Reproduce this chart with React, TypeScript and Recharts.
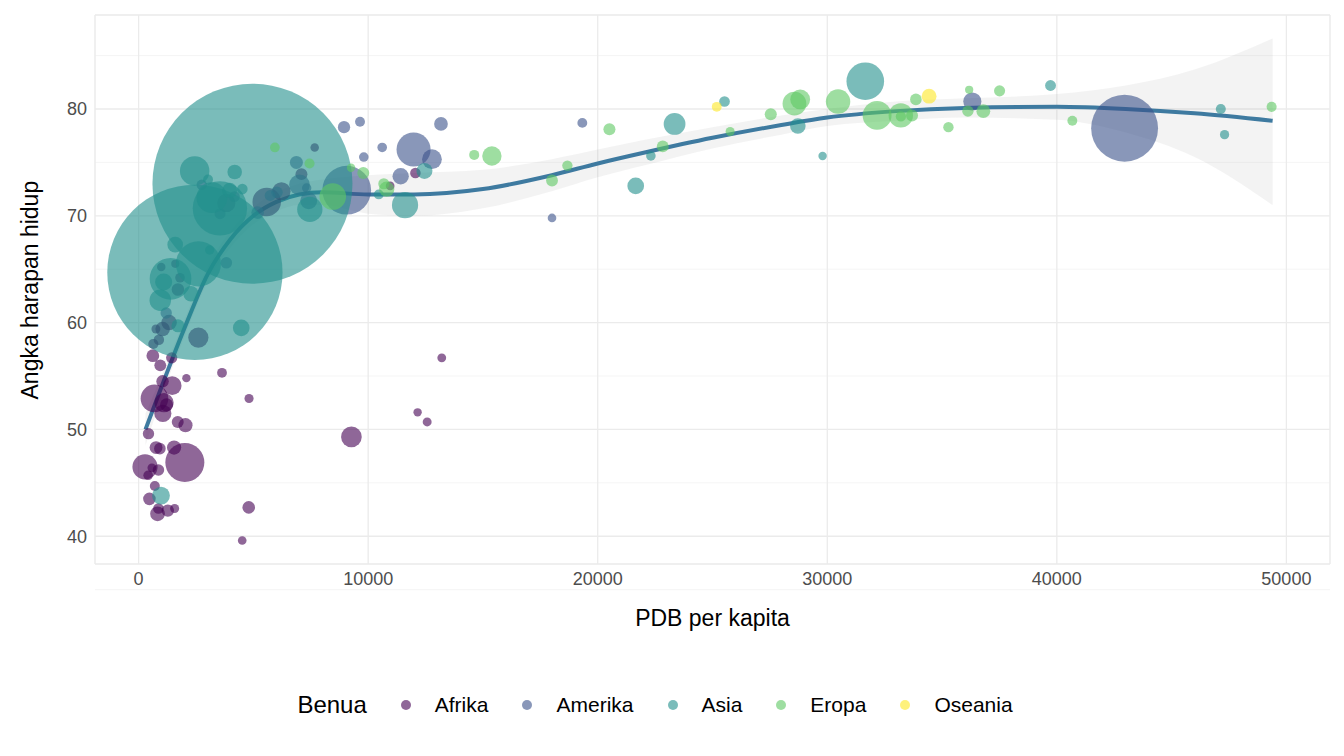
import React from 'react';
import { ComposedChart, Scatter, Line, Area, XAxis, YAxis, CartesianGrid } from 'recharts';

// [gdp per capita, life expectancy, population (millions)]
type Row = [number, number, number];

const afrika: Row[] = [
  [6223, 72.3, 33.3], [4797, 42.7, 12.4], [1441, 56.7, 8.1], [12570, 50.7, 1.6], [1217, 52.3, 14.3],
  [430, 49.6, 8.4], [2042, 50.4, 17.7], [706, 44.7, 4.4], [1704, 50.7, 10.2], [986, 65.2, 0.7],
  [278, 46.5, 64.6], [3633, 55.3, 3.8], [1545, 48.3, 18], [2082, 54.8, 0.5], [5581, 71.3, 80.3],
  [12154, 51.6, 0.55], [641, 58.0, 4.9], [691, 52.9, 76.5], [13206, 56.7, 1.45], [753, 59.4, 1.7],
  [1327, 60.0, 22.9], [943, 56.0, 9.9], [579, 46.4, 1.5], [1463, 54.1, 35.6], [1569, 42.6, 2.0],
  [415, 45.7, 3.2], [12057, 74.0, 6.0], [1045, 59.4, 19.2], [759, 48.3, 13.3], [1043, 54.5, 12.0],
  [1803, 64.2, 3.3], [10957, 72.8, 1.25], [3820, 71.2, 33.8], [824, 42.1, 20.0], [4811, 52.9, 2.1],
  [620, 56.9, 12.9], [2014, 46.9, 135], [863, 46.2, 8.9], [1712, 63.1, 12.3], [863, 42.6, 6.1],
  [926, 48.2, 9.1], [9270, 49.3, 44], [2602, 58.6, 42.3], [4513, 39.6, 1.1], [1107, 52.5, 38.1],
  [883, 58.4, 5.7], [7093, 73.9, 10.3], [1056, 51.5, 29.2], [1271, 42.4, 11.7], [470, 43.5, 12.3],
  [7670, 76.4, 0.8], [1598, 65.5, 0.2],
];
const amerika: Row[] = [
  [12779, 75.3, 40.3], [3822, 65.6, 9.1], [9066, 72.4, 190], [36319, 80.7, 33.4], [13172, 78.6, 16.3],
  [7007, 72.9, 44.2], [9645, 78.8, 4.1], [8948, 78.3, 11.4], [6025, 72.2, 9.3], [6873, 75.0, 13.8],
  [5728, 71.9, 6.9], [5186, 70.3, 12.6], [1202, 60.9, 8.5], [3548, 70.2, 7.5], [7321, 72.6, 2.8],
  [11978, 76.2, 108.7], [2749, 72.9, 5.7], [9809, 75.5, 3.2], [4173, 71.8, 6.7], [7409, 71.4, 28.7],
  [19329, 78.7, 4.0], [18009, 69.8, 1.06], [42952, 78.2, 301], [10611, 76.4, 3.4], [11416, 73.7, 26.1],
];
const asia: Row[] = [
  [975, 43.8, 31.9], [29796, 75.6, 0.7], [1391, 64.1, 150], [1714, 59.7, 14.1], [4959, 73.0, 1319],
  [39725, 82.2, 6.98], [2452, 64.7, 1110], [3541, 70.7, 223], [11606, 71.0, 69.5], [4471, 59.5, 27.5],
  [25523, 80.7, 6.4], [31656, 82.6, 127.5], [4519, 72.5, 6.05], [1593, 67.3, 23.3], [23348, 78.6, 49],
  [47307, 77.6, 2.5], [10461, 72.0, 3.9], [12452, 74.2, 24.8], [3096, 66.8, 2.9], [944, 62.1, 47.8],
  [1091, 63.8, 28.9], [22316, 75.6, 3.2], [2606, 65.5, 169], [3190, 71.7, 91], [21655, 72.8, 27.6],
  [47143, 80.0, 4.55], [3970, 72.4, 20.4], [4185, 74.1, 19.3], [28718, 78.4, 23.2], [7458, 70.6, 65],
  [2442, 74.2, 85.3], [3025, 73.4, 4.0], [2281, 62.7, 22.2],
];
const eropa: Row[] = [
  [5937, 76.4, 3.6], [36126, 79.8, 8.2], [33693, 79.4, 10.4], [7446, 74.9, 4.6], [10681, 73.0, 7.3],
  [14619, 75.7, 4.5], [22833, 76.5, 10.2], [35278, 78.3, 5.5], [33207, 79.3, 5.2], [30470, 80.7, 61],
  [32170, 79.4, 82.4], [27538, 79.5, 10.7], [18009, 73.3, 10], [36181, 81.8, 0.3], [40676, 78.9, 4.1],
  [28570, 80.5, 58], [9254, 74.5, 0.68], [36798, 79.8, 16.6], [49357, 80.2, 4.6], [15390, 75.6, 38.5],
  [20510, 78.1, 10.6], [10808, 72.5, 22.3], [9787, 74.0, 10.2], [18678, 74.7, 5.4], [25768, 77.9, 2.0],
  [28821, 80.9, 40.4], [33860, 80.9, 9.0], [37506, 81.7, 7.55], [8458, 71.8, 71.2], [33203, 79.4, 60.8],
];
const oseania: Row[] = [[34435, 81.2, 20.4], [25185, 80.2, 4.1]];

// smooth fit: x, fit, lower, upper
const smoothX = [300, 1000, 2000, 3000, 4000, 5000, 6000, 7000, 8000, 10000, 12000, 15000, 18000, 20000, 22000, 25000, 28000, 30000, 33000, 36000, 40000, 43000, 46000, 49400];
const smoothFit = [50, 54, 59.5, 64.5, 67.8, 70, 71.3, 72, 72.2, 72, 72, 72.5, 73.8, 74.9, 75.9, 77.3, 78.5, 79.2, 79.8, 80.1, 80.2, 80, 79.6, 78.9];
const smoothLo = [48.5, 53, 58.7, 63.8, 67, 69.2, 70.4, 71, 71, 70.2, 70, 70.7, 72.3, 73.6, 74.7, 76.3, 77.6, 78.4, 78.9, 79.2, 79, 77.8, 75.5, 71];
const smoothHi = [51.5, 55, 60.3, 65.2, 68.6, 70.8, 72.2, 73, 73.4, 73.8, 74, 74.3, 75.3, 76.2, 77.1, 78.3, 79.4, 80, 80.7, 81, 81.4, 82.2, 83.7, 86.6];

const xTicks = [0, 10000, 20000, 30000, 40000, 50000];
const yTicks = [40, 50, 60, 70, 80];
const xMinor = [-5000, 5000, 15000, 25000, 35000, 45000];
const yMinor = [35, 45, 55, 65, 75, 85];

const groups = [
  { name: 'Afrika', color: '#440154', rows: afrika },
  { name: 'Amerika', color: '#3B528B', rows: amerika },
  { name: 'Asia', color: '#21908C', rows: asia },
  { name: 'Eropa', color: '#5DC863', rows: eropa },
  { name: 'Oseania', color: '#FDE725', rows: oseania },
];

const smoothData = smoothX.map((x, i) => ({ x, fit: smoothFit[i], band: [smoothLo[i], smoothHi[i]] }));

const radius = (pop: number) => 4 + 96 * Math.pow(pop / 1319, 0.8);

const font = '"Liberation Sans", Arial, sans-serif';

const Bubble = (color: string) => (props: any) => {
  const { cx, cy, payload } = props;
  return <circle cx={cx} cy={cy} r={radius(payload.pop)} fill={color} fillOpacity={0.6} />;
};

export default function App() {
  return (
    <div style={{ position: 'relative', width: 1344, height: 756, margin: -8, background: '#fff', fontFamily: font }}>
      <ComposedChart width={1344} height={650} data={smoothData} margin={{ top: 15, right: 14, bottom: 56, left: 40 }}>
        <XAxis xAxisId="minor" type="number" domain={[-1900, 51900]} ticks={xMinor} hide allowDataOverflow />
        <YAxis yAxisId="minor" type="number" domain={[37.4, 88.8]} ticks={yMinor} hide allowDataOverflow />
        <CartesianGrid xAxisId="minor" yAxisId="minor" stroke="#f2f2f2" strokeWidth={0.8} />
        <CartesianGrid stroke="#ebebeb" strokeWidth={1.3} horizontalFill={[]} />
        <XAxis type="number" dataKey="x" domain={[-1900, 51900]} ticks={xTicks} axisLine={false} tickLine={false}
          tick={{ fill: '#4d4d4d', fontSize: 18, fontFamily: font }} allowDataOverflow
          label={{ value: 'PDB per kapita', position: 'insideBottom', offset: -32, fill: '#000', fontSize: 23, fontFamily: font }} />
        <YAxis type="number" domain={[37.4, 88.8]} ticks={yTicks} axisLine={false} tickLine={false} width={55}
          tick={{ fill: '#4d4d4d', fontSize: 18, fontFamily: font }} allowDataOverflow
          label={{ value: 'Angka harapan hidup', angle: -90, position: 'insideLeft', offset: -10, dy: 110, fill: '#000', fontSize: 23, fontFamily: font }} />
        <Area dataKey="band" type="monotone" fill="#999" fillOpacity={0.12} stroke="none" isAnimationActive={false} />
        {groups.map(g => (
          <Scatter key={g.name} name={g.name} data={g.rows.map(([x, y, pop]) => ({ x, y, pop }))} dataKey="y"
            shape={Bubble(g.color)} isAnimationActive={false} />
        ))}
        <Line dataKey="fit" type="monotone" stroke="#3E7AA0" strokeWidth={4} dot={false} isAnimationActive={false} />
      </ComposedChart>
      <div style={{ position: 'absolute', top: 691, left: 0, width: 1344, display: 'flex', justifyContent: 'center', alignItems: 'center', fontSize: 21 }}>
        <span style={{ fontSize: 24, marginRight: 34 }}>Benua</span>
        {groups.map(g => (
          <span key={g.name} style={{ display: 'flex', alignItems: 'center', marginRight: 34 }}>
            <span style={{ width: 10, height: 10, borderRadius: 5, background: g.color, opacity: 0.6, marginRight: 24 }} />
            {g.name}
          </span>
        ))}
      </div>
    </div>
  );
}
